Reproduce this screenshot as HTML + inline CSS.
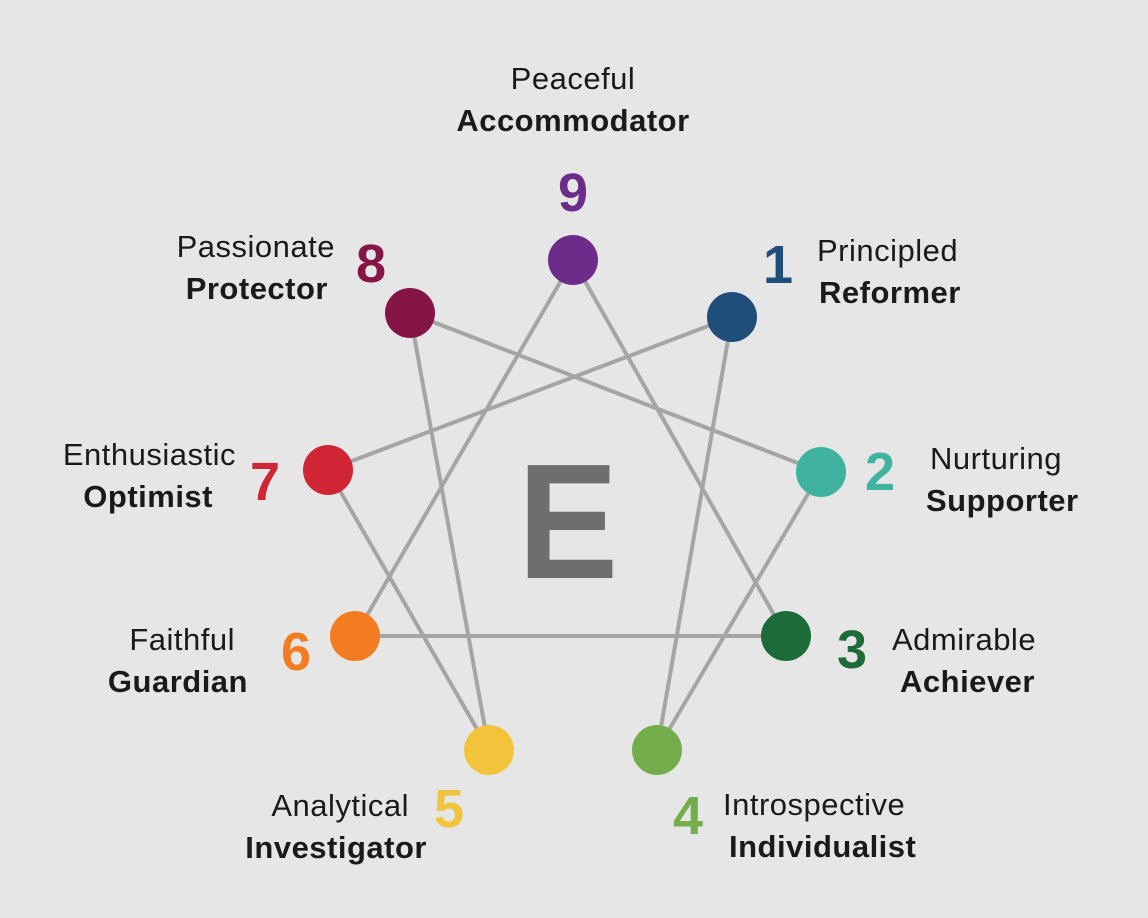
<!DOCTYPE html>
<html><head><meta charset="utf-8"><style>
html,body{margin:0;padding:0;background:#e6e6e6;}
svg{display:block;font-family:"Liberation Sans",sans-serif;}
.l{font-size:31px;fill:#1a1a1a;letter-spacing:0.5px;}
.b{font-size:31px;font-weight:bold;fill:#1a1a1a;letter-spacing:0.5px;}
.n{font-size:54px;font-weight:bold;}
</style></head><body>
<svg width="1148" height="918" viewBox="0 0 1148 918">
<rect width="1148" height="918" fill="#e6e6e6"/>
<g stroke="#a5a5a5" stroke-width="4" fill="none">
<line x1="573" y1="260" x2="786" y2="636"/>
<line x1="573" y1="260" x2="355" y2="636"/>
<line x1="355" y1="636" x2="786" y2="636"/>
<line x1="732" y1="317" x2="657" y2="750"/>
<line x1="657" y1="750" x2="821" y2="472"/>
<line x1="821" y1="472" x2="410" y2="313"/>
<line x1="410" y1="313" x2="489" y2="750"/>
<line x1="489" y1="750" x2="328" y2="470"/>
<line x1="328" y1="470" x2="732" y2="317"/>
</g>
<text x="568" y="578" text-anchor="middle" font-size="164" font-weight="bold" fill="#6e6e6e" transform="translate(568 0) scale(0.92 1) translate(-568 0)">E</text>
<circle cx="573" cy="260" r="25" fill="#6d2b8a"/>
<circle cx="732" cy="317" r="25" fill="#1f4e7a"/>
<circle cx="821" cy="472" r="25" fill="#3fb39f"/>
<circle cx="786" cy="636" r="25" fill="#1e6b3a"/>
<circle cx="657" cy="750" r="25" fill="#74ad4c"/>
<circle cx="489" cy="750" r="25" fill="#f3c33c"/>
<circle cx="355" cy="636" r="25" fill="#f47c20"/>
<circle cx="328" cy="470" r="25" fill="#cf2535"/>
<circle cx="410" cy="313" r="25" fill="#841544"/>
<g class="n" text-anchor="middle">
<text x="573" y="211" fill="#6d2b8a">9</text>
<text x="778" y="283" fill="#1f4e7a">1</text>
<text x="880" y="490" fill="#3fb39f">2</text>
<text x="852" y="668" fill="#1e6b3a">3</text>
<text x="688" y="834" fill="#74ad4c">4</text>
<text x="449" y="827" fill="#f3c33c">5</text>
<text x="296" y="670" fill="#f47c20">6</text>
<text x="265" y="500" fill="#cf2535">7</text>
<text x="371" y="282" fill="#841544">8</text>
</g>
<g text-anchor="middle">
<text class="l" x="573" y="89">Peaceful</text>
<text class="b" x="573" y="131">Accommodator</text>
</g>
<text class="l" x="817" y="261">Principled</text>
<text class="b" x="819" y="303">Reformer</text>
<text class="l" x="930" y="469">Nurturing</text>
<text class="b" x="926" y="511">Supporter</text>
<text class="l" x="892" y="650">Admirable</text>
<text class="b" x="900" y="692">Achiever</text>
<text class="l" x="723" y="815">Introspective</text>
<text class="b" x="729" y="857">Individualist</text>
<g text-anchor="end">
<text class="l" x="335" y="257">Passionate</text>
<text class="b" x="328" y="299">Protector</text>
<text class="l" x="236" y="465">Enthusiastic</text>
<text class="b" x="213" y="507">Optimist</text>
<text class="l" x="235" y="650">Faithful</text>
<text class="b" x="248" y="692">Guardian</text>
<text class="l" x="409" y="816">Analytical</text>
<text class="b" x="427" y="858">Investigator</text>
</g>
</svg>
</body></html>
